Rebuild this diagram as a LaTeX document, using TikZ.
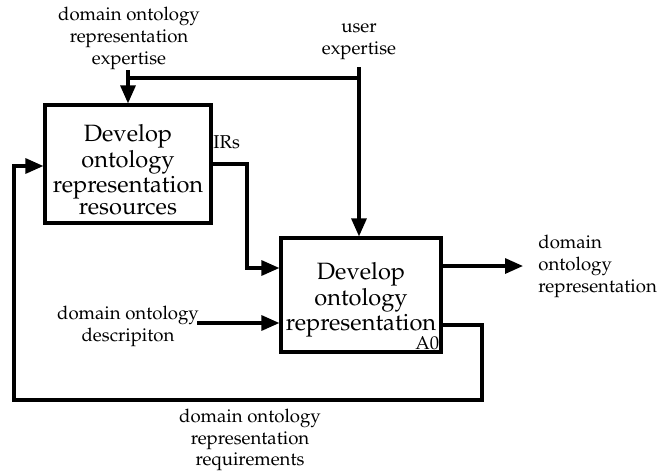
\documentclass[tikz,border=0pt]{standalone}
\usepackage[T1]{fontenc}
\usepackage{mathpazo}
\usetikzlibrary{arrows.meta}

\begin{document}
\begin{tikzpicture}[x=0.5pt,y=-0.5pt,
  lbl/.style={align=center, inner sep=0pt, font=\fontsize{9.3}{11}\selectfont},
  act/.style={draw, line width=1.6pt, align=center, inner sep=0pt,
              font=\fontsize{11.8}{11}\selectfont},
  pipe/.style={line width=1.6pt},
  flow/.style={pipe, -{Triangle[length=9pt,width=7.5pt]}}]
\useasboundingbox (0,0) rectangle (658,472);

% activity boxes
\node[act, minimum width=83pt, minimum height=59pt] (b1) at (128,164)
  {\rule{0pt}{14pt}Develop\\ontology\\representation\\resources};
\node[act, minimum width=80pt, minimum height=57pt] (b2) at (361,295)
  {\rule{0pt}{13pt}Develop\\ontology\\representation};
\node[lbl, anchor=south east] (a0) at ([xshift=-1.5pt,yshift=1.5pt]b2.south east) {A0};

% arrow labels
\node[lbl, anchor=south] (dore) at (129,70) {domain ontology\\representation\\expertise};
\node[lbl, anchor=south] (ue) at (359,60) {user\\expertise};
\node[lbl, anchor=west] (irs) at (213,142) {IRs};
\node[lbl, anchor=west, align=left] (out) at (538,266) {domain\\ontology\\representation};
\node[lbl] (desc) at (128,326) {domain ontology\\descripiton};
\node[lbl, font=\fontsize{9.3}{10.6}\selectfont] (req) at (250,440)
  {domain ontology\\representation\\requirements};

% controls from above
\coordinate (j1) at (128,78);
\draw[flow] (dore.south -| b1.north) -- (b1.north);
\draw[pipe] (j1) -- (j1 -| ue.south);
\draw[flow] ([yshift=-3.5pt]ue.south) -- (ue.south |- b2.north);

% IRs from the first activity into the second
\coordinate (irc) at (247,268);
\draw[flow] (b1.east) -| (irc) -- (irc -| b2.west);

% input and output of the second activity
\draw[flow] ([xshift=-1pt,yshift=1.5pt]desc.east) -- ([yshift=1.5pt]desc.east -| b2.west);
\draw[flow] ([yshift=14.5pt]b2.east) -- ([xshift=-7.5pt]out.west);

% requirements fed back to the first activity
\coordinate (fb1) at (482,400);
\coordinate (fb2) at (14,166);
\draw[flow] ([yshift=-15pt]b2.east) -| (fb1) -| (fb2) -- (fb2 -| b1.west);
\end{tikzpicture}
\end{document}
